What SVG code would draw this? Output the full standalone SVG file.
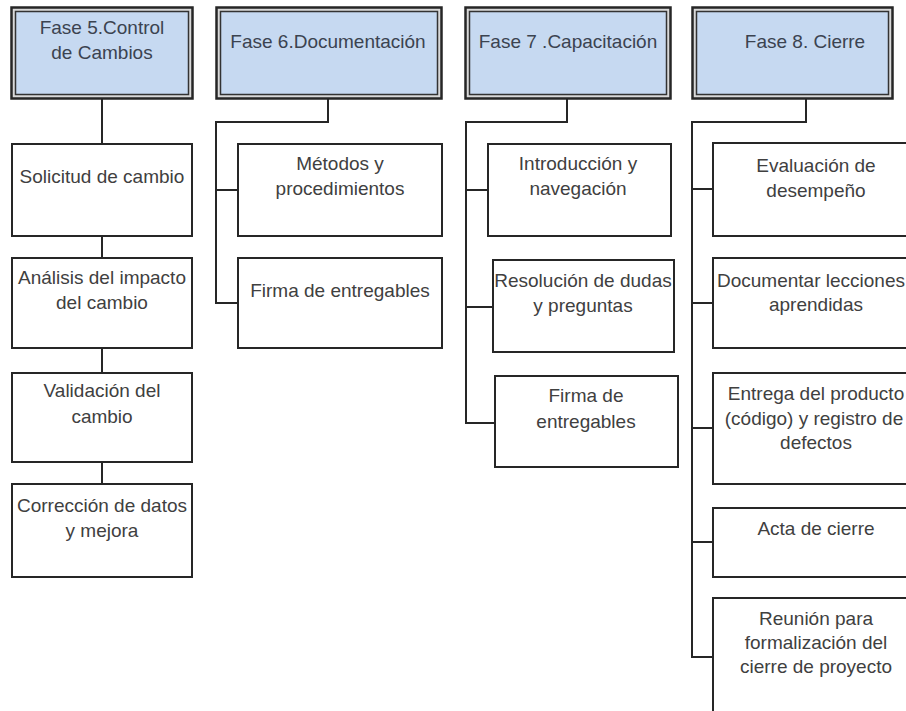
<svg xmlns="http://www.w3.org/2000/svg" width="906" height="711" viewBox="0 0 906 711">
<style>
  .hdo { fill: #d9d9d9; stroke: #262626; stroke-width: 2.5; }
  .hdi { fill: #c6d9f1; stroke: #333333; stroke-width: 1.5; }
  .box { fill: #ffffff; stroke: #262626; stroke-width: 2; }
  .ht { font-family: "Liberation Sans", Arial, sans-serif; font-size: 19px; fill: #3b4350; text-anchor: middle; }
  .t { font-family: "Liberation Sans", Arial, sans-serif; font-size: 19px; fill: #404040; text-anchor: middle; }
  .con { fill: none; stroke: #262626; stroke-width: 2; }
</style>
<rect x="0" y="0" width="906" height="711" fill="#ffffff"/>

<g id="connectors">
  <path class="con" d="M102,99 V144 M102,236 V258 M102,348 V373 M102,462 V484"/>
  <path class="con" d="M328,98 V122 H216 V303 H238 M216,190 H238"/>
  <path class="con" d="M567,98 V122 H466 V423 H495 M466,190 H488 M466,307 H493"/>
  <path class="con" d="M806,98 V122 H692 V657 H713 M692,189 H713 M692,303 H713 M692,428 H713 M692,542 H713"/>
</g>

<g id="fase5">
  <rect class="hdo" x="11.5" y="7.5" width="181" height="91"/>
  <rect class="hdi" x="15.5" y="11.5" width="173" height="83"/>
  <text class="ht" x="102" y="34">Fase 5.Control</text>
  <text class="ht" x="102" y="59">de Cambios</text>
</g>
<g id="fase6">
  <rect class="hdo" x="216.5" y="7.5" width="225" height="91"/>
  <rect class="hdi" x="220.5" y="11.5" width="217" height="83"/>
  <text class="ht" x="328" y="48">Fase 6.Documentación</text>
</g>
<g id="fase7">
  <rect class="hdo" x="465.5" y="7.5" width="205" height="91"/>
  <rect class="hdi" x="469.5" y="11.5" width="197" height="83"/>
  <text class="ht" x="568" y="48">Fase 7 .Capacitación</text>
</g>
<g id="fase8">
  <rect class="hdo" x="692.5" y="7.5" width="200" height="91"/>
  <rect class="hdi" x="696.5" y="11.5" width="192" height="83"/>
  <text class="ht" x="805" y="48">Fase 8. Cierre</text>
</g>

<g id="solicitud">
  <rect class="box" x="12" y="144" width="180" height="92"/>
  <text class="t" x="102" y="183">Solicitud de cambio</text>
</g>
<g id="analisis">
  <rect class="box" x="12" y="258" width="180" height="90"/>
  <text class="t" x="102" y="284">Análisis del impacto</text>
  <text class="t" x="102" y="309">del cambio</text>
</g>
<g id="validacion">
  <rect class="box" x="12" y="373" width="180" height="89"/>
  <text class="t" x="102" y="397">Validación del</text>
  <text class="t" x="102" y="423">cambio</text>
</g>
<g id="correccion">
  <rect class="box" x="12" y="484" width="180" height="93"/>
  <text class="t" x="102" y="512">Corrección de datos</text>
  <text class="t" x="102" y="537">y mejora</text>
</g>

<g id="metodos">
  <rect class="box" x="238" y="144" width="204" height="92"/>
  <text class="t" x="340" y="170">Métodos y</text>
  <text class="t" x="340" y="195">procedimientos</text>
</g>
<g id="firma6">
  <rect class="box" x="238" y="258" width="204" height="90"/>
  <text class="t" x="340" y="297">Firma de entregables</text>
</g>

<g id="introduccion">
  <rect class="box" x="488" y="144" width="183" height="92"/>
  <text class="t" x="578" y="170">Introducción y</text>
  <text class="t" x="578" y="195">navegación</text>
</g>
<g id="resolucion">
  <rect class="box" x="493" y="260" width="181" height="92"/>
  <text class="t" x="583" y="287">Resolución de dudas</text>
  <text class="t" x="583" y="312">y preguntas</text>
</g>
<g id="firma7">
  <rect class="box" x="495" y="376" width="183" height="91"/>
  <text class="t" x="586" y="402">Firma de</text>
  <text class="t" x="586" y="428">entregables</text>
</g>

<g id="evaluacion">
  <rect class="box" x="713" y="143" width="210" height="93"/>
  <text class="t" x="816" y="172">Evaluación de</text>
  <text class="t" x="816" y="197">desempeño</text>
</g>
<g id="documentar">
  <rect class="box" x="713" y="258" width="210" height="90"/>
  <text class="t" x="811" y="287">Documentar lecciones</text>
  <text class="t" x="816" y="311">aprendidas</text>
</g>
<g id="entrega">
  <rect class="box" x="713" y="373" width="210" height="111"/>
  <text class="t" x="816" y="400">Entrega del producto</text>
  <text class="t" x="814" y="425">(código) y registro de</text>
  <text class="t" x="816" y="449">defectos</text>
</g>
<g id="acta">
  <rect class="box" x="713" y="508" width="210" height="69"/>
  <text class="t" x="816" y="535">Acta de cierre</text>
</g>
<g id="reunion">
  <rect class="box" x="713" y="598" width="210" height="130"/>
  <text class="t" x="816" y="625">Reunión para</text>
  <text class="t" x="816" y="649">formalización del</text>
  <text class="t" x="816" y="673">cierre de proyecto</text>
</g>
</svg>
